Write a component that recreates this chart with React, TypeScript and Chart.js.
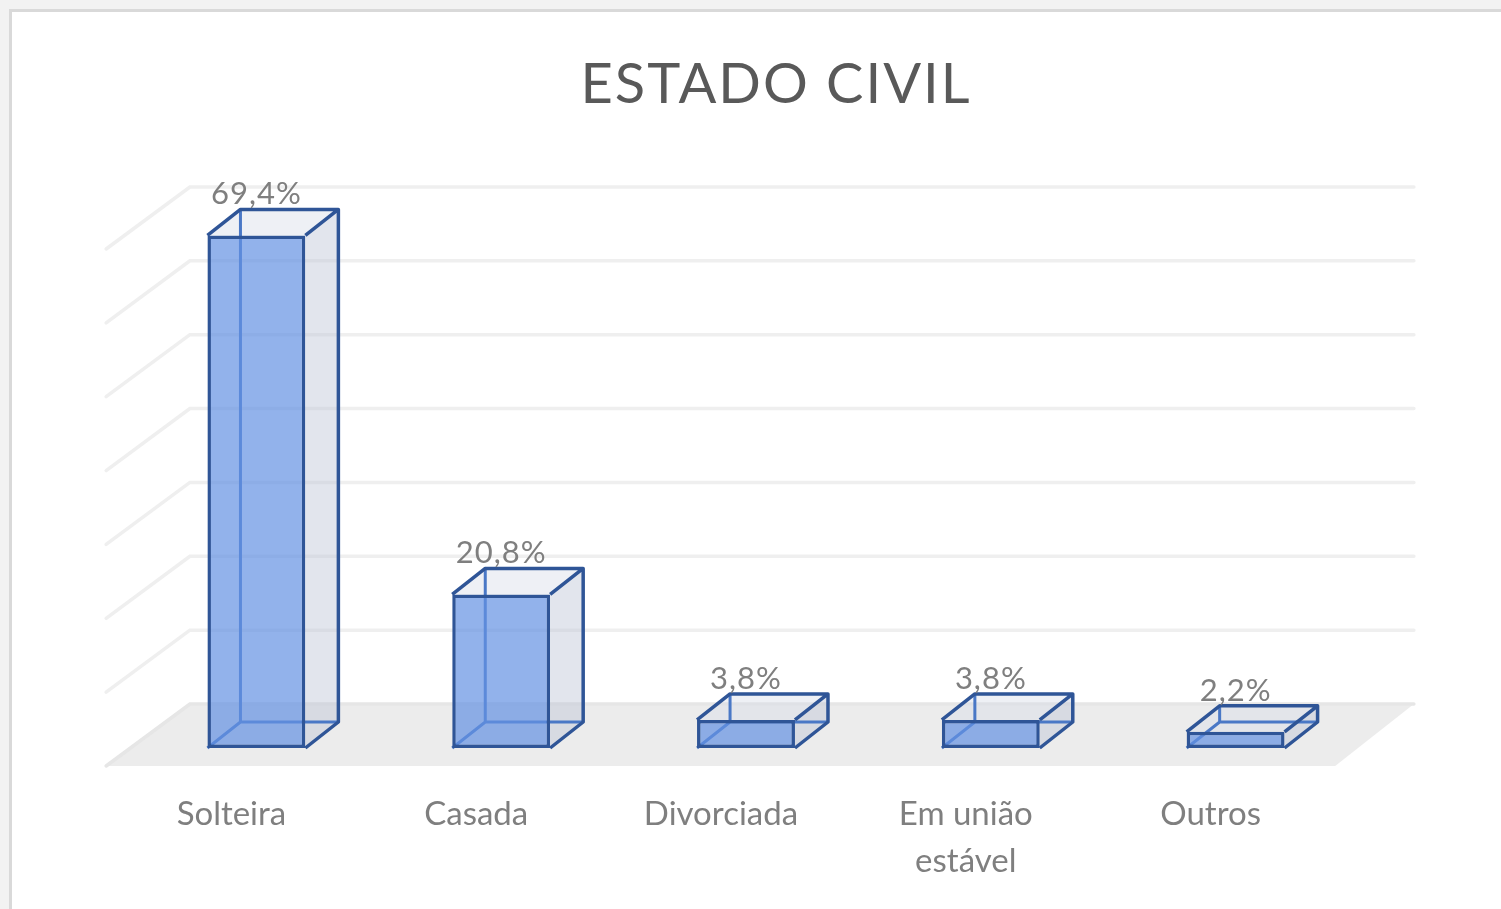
import React, { useEffect, useRef } from "react";
import { Chart, registerables } from "chart.js";

Chart.register(...registerables);

const categories: (string | string[])[] = ["Solteira", "Casada", "Divorciada", ["Em união", "estável"], "Outros"];
const values: number[] = [69.4, 20.8, 3.8, 3.8, 2.2];
const valueLabels: string[] = ["69,4%", "20,8%", "3,8%", "3,8%", "2,2%"];
const yMin = 0;
const yMax = 70;
const yStep = 10;
const title = "ESTADO CIVIL";

const FONT = "Lato, 'Open Sans', sans-serif";
const SLOPE = 1.27; // x shift per pixel of depth
const BAR_DEPTH = 26;
const WALL_DEPTH = 44;
const FLOOR_FRONT = 18;
const EDGE = "#2f5597";
const HIDDEN = "#4a78c6";

const scene3d = {
  id: "scene3d",
  beforeDraw(chart: any) {
    const { ctx, width, height, chartArea, scales } = chart;
    const ys = scales.y;
    ctx.save();
    ctx.fillStyle = "#f2f2f2";
    ctx.fillRect(0, 0, width, height);
    ctx.fillStyle = "#d9d9d9";
    ctx.fillRect(9, 9, width - 9, height - 9);
    ctx.fillStyle = "#ffffff";
    ctx.fillRect(12, 12, width - 12, height - 12);

    // title
    ctx.fillStyle = "#595959";
    ctx.font = `56px ${FONT}`;
    (ctx as any).letterSpacing = "2px";
    ctx.textAlign = "center";
    ctx.textBaseline = "alphabetic";
    ctx.fillText(title, 776, 103);
    (ctx as any).letterSpacing = "0px";

    const xL = chartArea.left;
    const xR = chartArea.right;
    const y0 = ys.getPixelForValue(0);
    const bdx = WALL_DEPTH * SLOPE;
    const fdx = FLOOR_FRONT * SLOPE;
    const fdxL = fdx + 5;

    // floor
    ctx.fillStyle = "#ececec";
    ctx.beginPath();
    ctx.moveTo(xL + bdx, y0 - WALL_DEPTH);
    ctx.lineTo(xR + bdx, y0 - WALL_DEPTH);
    ctx.lineTo(xR - fdx, y0 + FLOOR_FRONT);
    ctx.lineTo(xL - fdxL, y0 + FLOOR_FRONT);
    ctx.closePath();
    ctx.fill();

    // gridlines on back and side wall
    ctx.lineWidth = 3.5;
    ctx.lineCap = "round";
    ys.ticks.forEach((t: any) => {
      const yv = ys.getPixelForValue(t.value);
      ctx.strokeStyle = t.value === 0 ? "#e6e6e6" : "#efefef";
      ctx.beginPath();
      ctx.moveTo(xL - fdxL, yv + FLOOR_FRONT);
      ctx.lineTo(xL + bdx, yv - WALL_DEPTH);
      ctx.lineTo(xR + bdx, yv - WALL_DEPTH);
      ctx.stroke();
    });
    ctx.restore();
  },
  beforeDatasetsDraw(chart: any) {
    const { ctx } = chart;
    const meta = chart.getDatasetMeta(0);
    const dx = BAR_DEPTH * SLOPE;
    const dy = BAR_DEPTH;
    ctx.save();
    meta.data.forEach((bar: any) => {
      const x1 = bar.x - bar.width / 2;
      const x2 = bar.x + bar.width / 2;
      const top = bar.y;
      const base = bar.base;
      // right side face
      ctx.fillStyle = "rgba(190,198,215,0.45)";
      ctx.beginPath();
      ctx.moveTo(x2, top);
      ctx.lineTo(x2 + dx, top - dy);
      ctx.lineTo(x2 + dx, base - dy);
      ctx.lineTo(x2, base);
      ctx.closePath();
      ctx.fill();
      // top face
      ctx.fillStyle = "rgba(215,220,232,0.42)";
      ctx.beginPath();
      ctx.moveTo(x1, top);
      ctx.lineTo(x1 + dx, top - dy);
      ctx.lineTo(x2 + dx, top - dy);
      ctx.lineTo(x2, top);
      ctx.closePath();
      ctx.fill();
      // hidden edges
      ctx.strokeStyle = HIDDEN;
      ctx.lineWidth = 3;
      ctx.beginPath();
      ctx.moveTo(x1 + dx, top - dy);
      ctx.lineTo(x1 + dx, base - dy);
      ctx.lineTo(x2 + dx, base - dy);
      ctx.moveTo(x1, base);
      ctx.lineTo(x1 + dx, base - dy);
      ctx.stroke();
    });
    ctx.restore();
  },
  afterDatasetsDraw(chart: any) {
    const { ctx, scales } = chart;
    const xs = scales.x;
    const meta = chart.getDatasetMeta(0);
    const dx = BAR_DEPTH * SLOPE;
    const dy = BAR_DEPTH;
    ctx.save();
    meta.data.forEach((bar: any, i: number) => {
      const x1 = bar.x - bar.width / 2;
      const x2 = bar.x + bar.width / 2;
      const top = bar.y;
      const base = bar.base;
      ctx.strokeStyle = EDGE;
      ctx.lineWidth = 3.5;
      ctx.lineJoin = "round";
      ctx.beginPath();
      ctx.moveTo(x1, top);
      ctx.lineTo(x1 + dx, top - dy);
      ctx.lineTo(x2 + dx, top - dy);
      ctx.lineTo(x2 + dx, base - dy);
      ctx.lineTo(x2, base);
      ctx.moveTo(x2, top);
      ctx.lineTo(x2 + dx, top - dy);
      ctx.stroke();

      // value label
      ctx.fillStyle = "#7f7f7f";
      ctx.font = `31px ${FONT}`;
      (ctx as any).letterSpacing = "1px";
      ctx.textAlign = "center";
      ctx.textBaseline = "alphabetic";
      ctx.fillText(valueLabels[i], bar.x, top - dy - 5);
      (ctx as any).letterSpacing = "0px";
    });

    // category labels at floor front
    ctx.fillStyle = "#7f7f7f";
    ctx.font = `33px ${FONT}`;
    ctx.textAlign = "center";
    ctx.textBaseline = "alphabetic";
    categories.forEach((c, i) => {
      const x = xs.getPixelForValue(i) - 25;
      const lines = Array.isArray(c) ? c : [c];
      lines.forEach((ln, k) => ctx.fillText(ln, x, 825 + k * 47));
    });
    ctx.restore();
  },
};

export default function App() {
  const ref = useRef<HTMLCanvasElement | null>(null);
  useEffect(() => {
    if (!ref.current) return;
    const chart = new Chart(ref.current, {
      type: "bar",
      data: {
        labels: categories as any,
        datasets: [
          {
            data: values,
            backgroundColor: "rgba(100,146,226,0.7)",
            borderColor: EDGE,
            borderWidth: 3.5,
            borderSkipped: false,
            barPercentage: 1,
            categoryPercentage: 0.4,
          },
        ],
      },
      options: {
        responsive: false,
        animation: false,
        layout: { padding: { left: 134, right: 143, top: 231, bottom: 161 } },
        plugins: { legend: { display: false }, tooltip: { enabled: false }, title: { display: false } },
        scales: {
          x: { display: false, grid: { display: false } },
          y: { display: false, min: yMin, max: yMax, ticks: { stepSize: yStep } },
        },
      },
      plugins: [scene3d],
    });
    return () => chart.destroy();
  }, []);
  return (
    <div style={{ position: "fixed", left: 0, top: 0, width: 1501, height: 909 }}>
      <canvas ref={ref} width={1501} height={909} style={{ display: "block" }} />
    </div>
  );
}
